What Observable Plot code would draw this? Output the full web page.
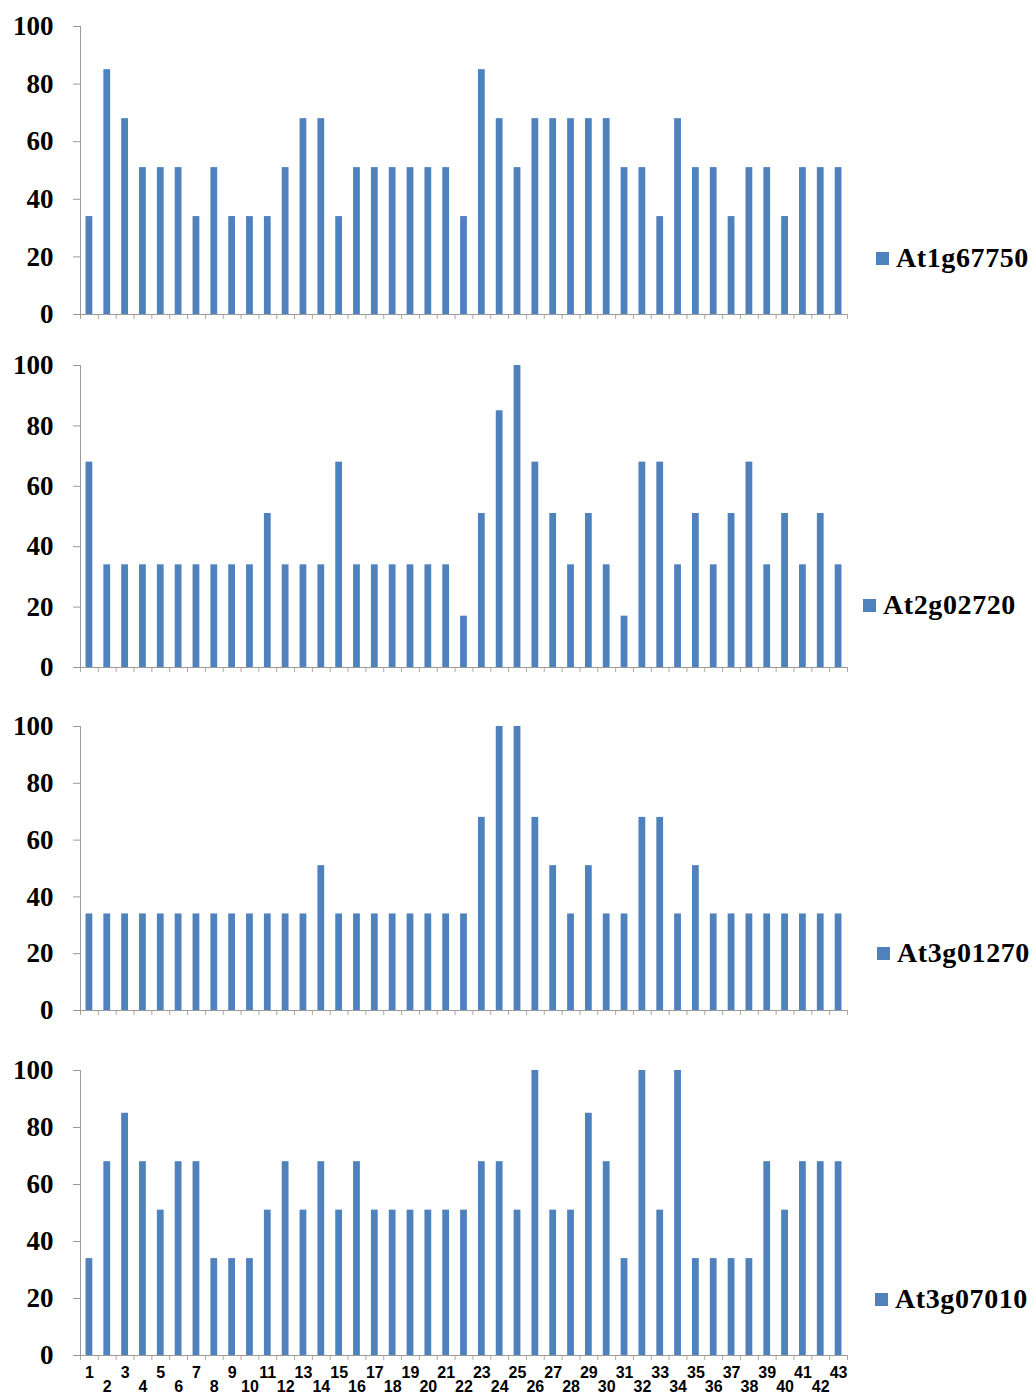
<!DOCTYPE html>
<html><head><meta charset="utf-8">
<script src="https://cdn.jsdelivr.net/npm/d3@7"></script>
<script src="https://cdn.jsdelivr.net/npm/@observablehq/plot@0.6"></script>
<style>
body{margin:0;background:#fff;}
#wrap{position:relative;width:1036px;height:1394px;overflow:hidden;background:#fff}
.legend{position:absolute;display:flex;align-items:center;font-family:"Liberation Serif","Times New Roman",serif;font-weight:bold;font-size:28px;letter-spacing:0.6px;color:#000;line-height:1;white-space:nowrap}
.sw{width:13px;height:13px;background:#4F81BD;margin-right:7px;flex:none}
</style></head><body><div id="wrap"></div>
<script>
const categories = [1,2,3,4,5,6,7,8,9,10,11,12,13,14,15,16,17,18,19,20,21,22,23,24,25,26,27,28,29,30,31,32,33,34,35,36,37,38,39,40,41,42,43];
const yTicks = [0,20,40,60,80,100];
const seriesNames = ["At1g67750","At2g02720","At3g01270","At3g07010"];
const At1g67750 = [34,85,68,51,51,51,34,51,34,34, 34,51,68,68,34,51,51,51,51,51, 51,34,85,68,51,68,68,68,68,68, 51,51,34,68,51,51,34,51,51,34, 51,51,51];
const At2g02720 = [68,34,34,34,34,34,34,34,34,34, 51,34,34,34,68,34,34,34,34,34, 34,17,51,85,100,68,51,34,51,34, 17,68,68,34,51,34,51,68,34,51, 34,51,34];
const At3g01270 = [34,34,34,34,34,34,34,34,34,34, 34,34,34,51,34,34,34,34,34,34, 34,34,68,100,100,68,51,34,51,34, 34,68,68,34,51,34,34,34,34,34, 34,34,34];
const At3g07010 = [34,68,85,68,51,68,68,34,34,34, 51,68,51,68,51,68,51,51,51,51, 51,51,68,68,51,100,51,51,85,68, 34,100,51,100,34,34,34,34,68,51, 68,68,68];
const seriesValues = [At1g67750, At2g02720, At3g01270, At3g07010];

// layout (pixels)
const W = 1036, ML = 80, MR = W - 847;
const BLUE = "#4F81BD", AXIS = "#9a9a9a", TICK = "#b0a898";
const SERIF = "Liberation Serif, Times New Roman, serif";
const SANS = "Liberation Sans, Arial, sans-serif";
const panelTop = [26, 365, 726, 1070];
const panelH = [288, 302, 284, 285];
const legendPos = [[876, 258], [863, 605], [877, 953], [875, 1299]];
const step = (W - ML - MR) / categories.length;

const wrap = document.getElementById("wrap");

seriesValues.forEach((values, k) => {
  const last = k === seriesValues.length - 1;
  const mt = 20, mb = last ? 42 : 12;
  const data = categories.map((c, i) => ({sample: c, value: values[i]}));
  const marks = [
    Plot.barY(data, {x: "sample", y: "value", fill: BLUE}),
    Plot.axisX({ticks: categories, tickSize: 5, dx: -step / 2, tickFormat: () => "", label: null, stroke: TICK}),
    Plot.axisX({ticks: [categories[categories.length - 1]], tickSize: 5, dx: step / 2, tickFormat: () => "", label: null, stroke: TICK}),
    Plot.ruleY([0], {stroke: AXIS}),
    Plot.frame({anchor: "left", stroke: AXIS}),
    Plot.axisY({ticks: yTicks, tickSize: 7, tickPadding: 20, stroke: AXIS, fill: "#000",
      fontSize: 27, fontWeight: "bold", fontFamily: SERIF, label: null})
  ];
  if (last) {
    const odd = categories.filter((c, i) => i % 2 === 0);
    const even = categories.filter((c, i) => i % 2 === 1);
    marks.push(
      Plot.axisX({ticks: odd, tickSize: 0, tickPadding: 11, fontSize: 16, fontWeight: "bold", fontFamily: SANS, fill: "#000", label: null}),
      Plot.axisX({ticks: even, tickSize: 0, tickPadding: 25, fontSize: 16, fontWeight: "bold", fontFamily: SANS, fill: "#000", label: null})
    );
  }
  const svg = Plot.plot({
    width: W, height: mt + panelH[k] + mb,
    marginTop: mt, marginBottom: mb, marginLeft: ML, marginRight: MR,
    x: {type: "band", domain: categories, paddingInner: 0.62, paddingOuter: 0.31, round: false},
    y: {domain: [0, 100]},
    style: {background: "transparent", color: "#000", overflow: "visible"},
    marks
  });
  svg.style.position = "absolute";
  svg.style.left = "0px";
  svg.style.top = (panelTop[k] - mt) + "px";
  wrap.appendChild(svg);

  const lg = document.createElement("div");
  lg.className = "legend";
  lg.style.left = legendPos[k][0] + "px";
  lg.style.top = (legendPos[k][1] - 14) + "px";
  lg.style.height = "28px";
  lg.innerHTML = `<div class="sw"></div><span>${seriesNames[k]}</span>`;
  wrap.appendChild(lg);
});
</script></body></html>
